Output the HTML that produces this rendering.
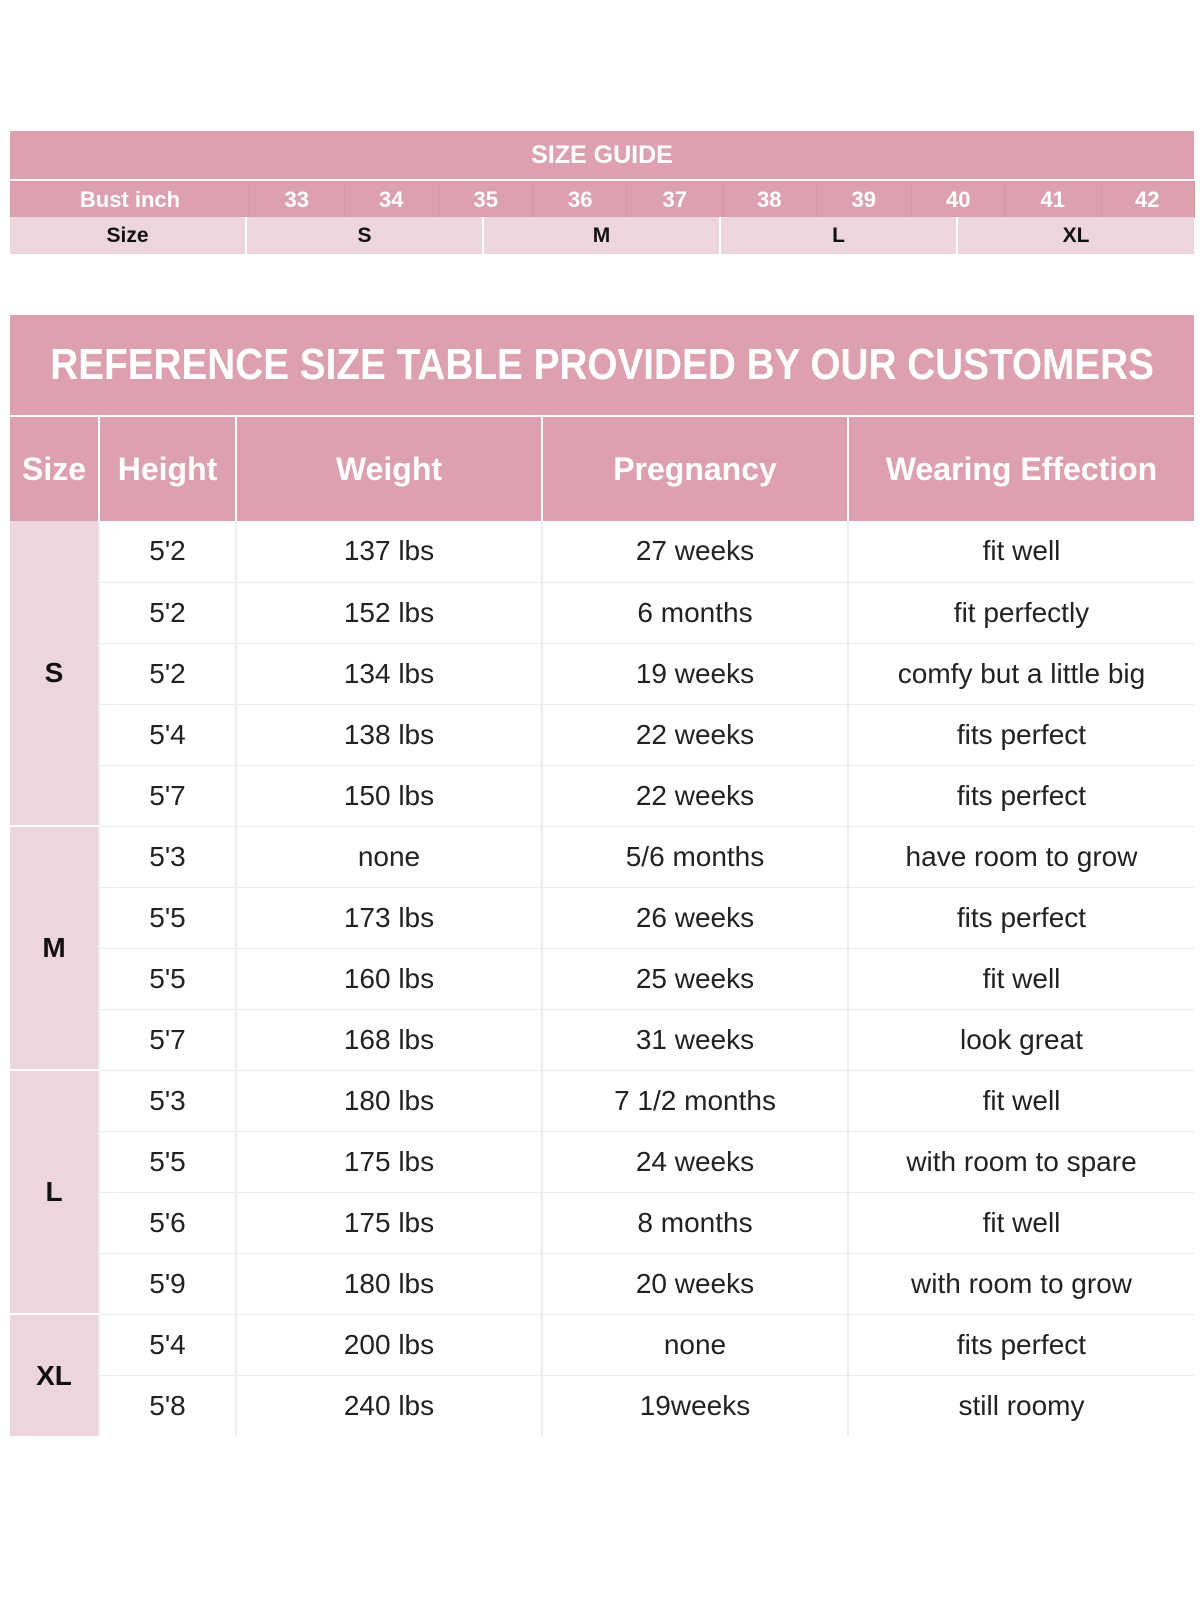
<!DOCTYPE html>
<html><head><meta charset="utf-8"><style>
body{margin:0;width:1200px;height:1600px;background:#fff;position:relative;overflow:hidden;font-family:"Liberation Sans",sans-serif}
.a{position:absolute;display:flex;align-items:center;justify-content:center;box-sizing:border-box;white-space:nowrap}
.p{background:#dda0ae;color:#fff;font-weight:bold}
table{position:absolute;border-collapse:collapse;table-layout:fixed}
td{padding:0;text-align:center;box-sizing:border-box;white-space:nowrap}
.t1 td{color:#fff;font-weight:bold;font-size:22px;background:#dda0ae;border:1px solid #d594a3;height:36px}
.t2 td{color:#111;font-weight:bold;font-size:21px;background:#ecd5dc;border-left:2px solid #fff;height:37px}
.bt td{height:61px;font-size:28px;color:#222;border-bottom:1px solid #ececec;border-left:2px solid #eee}
.bt td.s{background:#ecd5dc;font-weight:bold;font-size:28px;color:#111;border-left:none;border-bottom:2px solid #fff}
.bh td{height:104px;background:#dda0ae;color:#fff;font-weight:bold;font-size:32px;border-left:2px solid #fff}
</style></head><body>
<div class="a p" style="left:10px;top:131px;width:1184px;height:48px;font-size:25px">SIZE GUIDE</div>
<table class="t1" style="left:10px;top:181px;width:1184px">
<colgroup><col style="width:239px"><col span="10" style="width:94.5px"></colgroup>
<tr><td>Bust inch</td><td>33</td><td>34</td><td>35</td><td>36</td><td>37</td><td>38</td><td>39</td><td>40</td><td>41</td><td>42</td></tr></table>
<table class="t2" style="left:10px;top:217px;width:1184px">
<colgroup><col style="width:236px"><col style="width:237px"><col style="width:237px"><col style="width:237px"><col style="width:237px"></colgroup>
<tr><td style="border-left:none">Size</td><td>S</td><td>M</td><td>L</td><td>XL</td></tr></table>

<div class="a p" style="left:10px;top:315px;width:1184px;height:100px;font-size:44px"><span style="display:inline-block;transform:scaleX(0.88)">REFERENCE SIZE TABLE PROVIDED BY OUR CUSTOMERS</span></div>
<table style="left:10px;top:417px;width:1184px">
<colgroup><col style="width:89px"><col style="width:137px"><col style="width:306px"><col style="width:306px"><col style="width:346px"></colgroup>
<tr class="bh"><td style="border-left:none">Size</td><td>Height</td><td>Weight</td><td>Pregnancy</td><td>Wearing Effection</td></tr>
<tbody class="bt">
<tr><td class="s" rowspan="5">S</td><td>5'2</td><td>137 lbs</td><td>27 weeks</td><td>fit well</td></tr>
<tr><td>5'2</td><td>152 lbs</td><td>6 months</td><td>fit perfectly</td></tr>
<tr><td>5'2</td><td>134 lbs</td><td>19 weeks</td><td>comfy but a little big</td></tr>
<tr><td>5'4</td><td>138 lbs</td><td>22 weeks</td><td>fits perfect</td></tr>
<tr><td>5'7</td><td>150 lbs</td><td>22 weeks</td><td>fits perfect</td></tr>
<tr><td class="s" rowspan="4">M</td><td>5'3</td><td>none</td><td>5/6 months</td><td>have room to grow</td></tr>
<tr><td>5'5</td><td>173 lbs</td><td>26 weeks</td><td>fits perfect</td></tr>
<tr><td>5'5</td><td>160 lbs</td><td>25 weeks</td><td>fit well</td></tr>
<tr><td>5'7</td><td>168 lbs</td><td>31 weeks</td><td>look great</td></tr>
<tr><td class="s" rowspan="4">L</td><td>5'3</td><td>180 lbs</td><td>7 1/2 months</td><td>fit well</td></tr>
<tr><td>5'5</td><td>175 lbs</td><td>24 weeks</td><td>with room to spare</td></tr>
<tr><td>5'6</td><td>175 lbs</td><td>8 months</td><td>fit well</td></tr>
<tr><td>5'9</td><td>180 lbs</td><td>20 weeks</td><td>with room to grow</td></tr>
<tr><td class="s" rowspan="2" style="border-bottom:none">XL</td><td>5'4</td><td>200 lbs</td><td>none</td><td>fits perfect</td></tr>
<tr><td style="border-bottom:none">5'8</td><td style="border-bottom:none">240 lbs</td><td style="border-bottom:none">19weeks</td><td style="border-bottom:none">still roomy</td></tr>
</tbody></table>
</body></html>
